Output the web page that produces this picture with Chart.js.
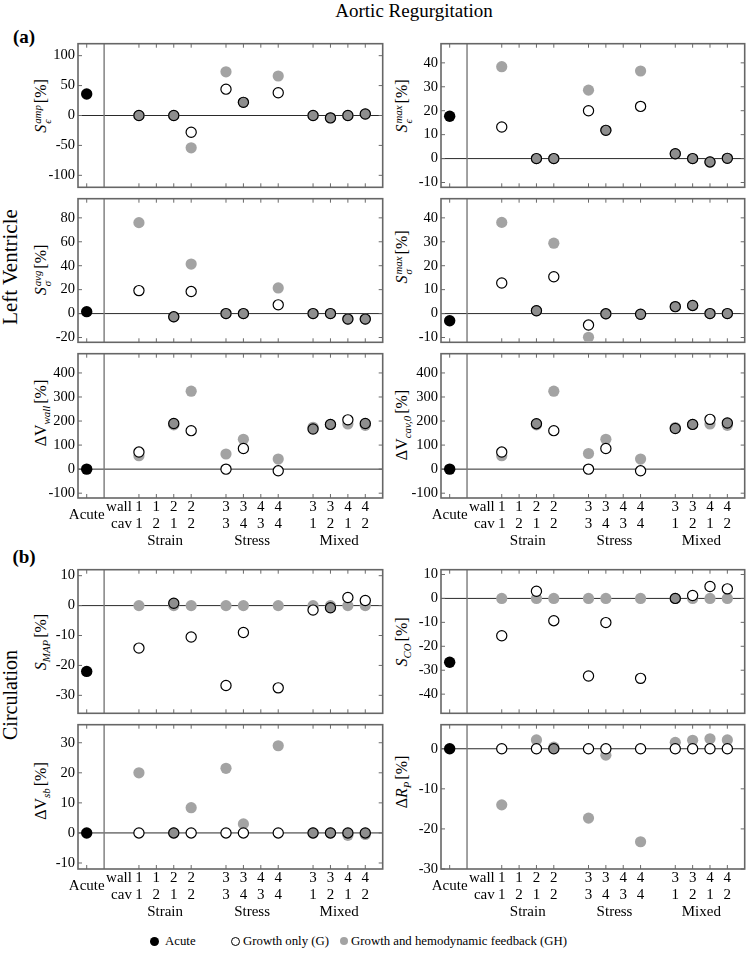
<!DOCTYPE html>
<html><head><meta charset="utf-8">
<script src="https://cdn.jsdelivr.net/npm/chart.js@4.4.1/dist/chart.umd.min.js"></script>
<style>
html,body{margin:0;padding:0;background:#fff;overflow:hidden;}
body{width:751px;height:956px;position:relative;font-family:"Liberation Serif","Times New Roman",serif;color:#000;}
canvas{position:absolute;}
.t{position:absolute;white-space:nowrap;line-height:1;transform:translate(-50%,-50%);}
.rot{transform:translate(-50%,-50%) rotate(-90deg);}
.yt{font-size:16px;}
.ss{display:inline-flex;flex-direction:column;vertical-align:0.45em;font-size:0.68em;line-height:0.95;margin-left:1px;margin-right:2px;}
.sb{font-size:0.68em;vertical-align:-0.35em;margin-right:2px;}
.dot{position:absolute;width:9px;height:9px;border-radius:50%;box-sizing:border-box;}
.lg{position:absolute;font-size:12.8px;line-height:1;white-space:nowrap;transform:translateY(-50%);}
</style></head><body>
<div class="t" style="left:414px;top:10px;font-size:19px;">Aortic Regurgitation</div>
<div class="t" style="left:24px;top:36px;font-size:19px;font-weight:bold;">(a)</div>
<div class="t" style="left:24px;top:556px;font-size:19px;font-weight:bold;">(b)</div>
<div class="t rot" style="left:10px;top:267px;font-size:21px;">Left Ventricle</div>
<div class="t rot" style="left:10px;top:695px;font-size:20px;">Circulation</div>
<div id="ytitles"></div>
<span class="dot" style="left:149.5px;top:936.5px;width:9.5px;height:9.5px;background:#000;"></span>
<span class="lg" style="left:165px;top:941px;">Acute</span>
<span class="dot" style="left:230.5px;top:936.5px;border:1.2px solid #000;background:#fff;"></span>
<span class="lg" style="left:243px;top:941px;">Growth only (G)</span>
<span class="dot" style="left:340px;top:937px;width:8px;height:8px;background:#a3a3a3;"></span>
<span class="lg" style="left:351px;top:941px;">Growth and hemodynamic feedback (GH)</span>
<script>
// ---------- categories ----------
const groups = ['Strain', 'Stress', 'Mixed'];
const wallLabels = ['1','1','2','2','3','3','4','4','3','3','4','4'];
const cavLabels  = ['1','2','1','2','3','4','3','4','1','2','1','2'];
const acuteLabel = 'Acute';

// ---------- Left ventricle ----------
const sEpsAmpAcute = 36;
const sEpsAmpG  = [0, null, 0, -28, 44, 22, null, 38, 0, -4, 0, 2.5];
const sEpsAmpGH = [0, null, 0, -54, 73, 22, null, 66, 0, -4, 0, 2.5];
const sEpsAmpTicks = [-100, -50, 0, 50, 100];

const sEpsMaxAcute = 17.7;
const sEpsMaxG  = [13.2, null, 0, 0, 20, 11.8, null, 21.8, 2, 0, -1.4, 0.1];
const sEpsMaxGH = [38.4, null, 0, 0, 28.6, 11.8, null, 36.6, 2, 0, -1.4, 0.1];
const sEpsMaxTicks = [-10, 0, 10, 20, 30, 40];

const sSigAvgAcute = 1.6;
const sSigAvgG  = [19.2, null, -2.7, 18.4, 0, 0, null, 7.3, 0, 0, -4.6, -4.6];
const sSigAvgGH = [76, null, -2.7, 41.4, 0, 0, null, 21.4, 0, 0, -4.6, -4.6];
const sSigAvgTicks = [-20, 0, 20, 40, 60, 80];

const sSigMaxAcute = -3;
const sSigMaxG  = [12.8, null, 1.2, 15.4, -4.8, -0.1, null, -0.3, 2.9, 3.4, 0, 0];
const sSigMaxGH = [38.1, null, 1.2, 29.4, -9.9, -0.1, null, -0.3, 2.9, 3.4, 0, 0];
const sSigMaxTicks = [-10, 0, 10, 20, 30, 40];

const dVwallAcute = 0;
const dVwallG  = [71, null, 190, 160, 0, 86, null, -7, 167, 186, 205, 190];
const dVwallGH = [56, null, 184, 324, 63, 124, null, 42, 174, 186, 188, 182];
const dVwallTicks = [-100, 0, 100, 200, 300, 400];

const dVcavAcute = 0;
const dVcavG  = [71, null, 189, 160, 0, 86, null, -7, 169, 186, 207, 192];
const dVcavGH = [56, null, 184, 324, 65, 124, null, 42, 173, 186, 188, 182];
const dVcavTicks = [-100, 0, 100, 200, 300, 400];

// ---------- Circulation ----------
const sMapAcute = -22;
const sMapG  = [-14.2, null, 0.8, -10.5, -26.7, -9, null, -27.5, -1.5, -0.7, 2.7, 1.7];
const sMapGH = [0, null, 0, 0, 0, 0, null, 0, 0, 0, 0, 0];
const sMapTicks = [-30, -20, -10, 0, 10];

const sCoAcute = -26.7;
const sCoG  = [-15.6, null, 3, -9.3, -32.4, -10.1, null, -33.4, 0, 1.2, 5, 4];
const sCoGH = [0, null, 0, 0, 0, 0, null, 0, 0, 0, 0, 0];
const sCoTicks = [-40, -30, -20, -10, 0, 10];

const dVsbAcute = 0;
const dVsbG  = [0, null, 0, 0, 0, 0, null, 0, 0, 0, 0, 0];
const dVsbGH = [20, null, 0, 8.4, 21.5, 3, null, 29, 0, 0, -0.8, -0.5];
const dVsbTicks = [-10, 0, 10, 20, 30];

const dRpAcute = 0;
const dRpG  = [0, null, 0, 0, 0, 0, null, 0, 0, 0, 0, 0];
const dRpGH = [-14, null, 2.2, 0.4, -17.3, -1.6, null, -23.2, 1.6, 2.1, 2.5, 2.2];
const dRpTicks = [-30, -20, -10, 0];

// ---------- layout ----------
const colL = [78, 441], colR = [387, 749];
const rowT = [42, 197, 352, 568, 723], rowB = [189, 344, 498, 715, 869];
const FONT = '"Liberation Serif", "Times New Roman", serif';

const catX = wallLabels.map((_, i) => 3 + Math.floor(i / 4) * 5 + (i % 4));
const tickVals = [0].concat(catX);

const panels = [
  {row:0,col:0,acute:sEpsAmpAcute,g:sEpsAmpG,gh:sEpsAmpGH,ticks:sEpsAmpTicks,min:-120,max:120,ty:106,
   title:'<i>S</i><span class="ss"><i>amp</i><i>&#1013;</i></span>[%]'},
  {row:0,col:1,acute:sEpsMaxAcute,g:sEpsMaxG,gh:sEpsMaxGH,ticks:sEpsMaxTicks,min:-12,max:48,ty:106,
   title:'<i>S</i><span class="ss"><i>max</i><i>&#1013;</i></span>[%]'},
  {row:1,col:0,acute:sSigAvgAcute,g:sSigAvgG,gh:sSigAvgGH,ticks:sSigAvgTicks,min:-24,max:96,ty:270,
   title:'<i>S</i><span class="ss"><i>avg</i><i>&sigma;</i></span>[%]'},
  {row:1,col:1,acute:sSigMaxAcute,g:sSigMaxG,gh:sSigMaxGH,ticks:sSigMaxTicks,min:-12,max:48,ty:257,
   title:'<i>S</i><span class="ss"><i>max</i><i>&sigma;</i></span>[%]'},
  {row:2,col:0,acute:dVwallAcute,g:dVwallG,gh:dVwallGH,ticks:dVwallTicks,min:-120,max:480,ty:413,
   title:'&Delta;V<span class="sb"><i>wall</i></span>[%]'},
  {row:2,col:1,acute:dVcavAcute,g:dVcavG,gh:dVcavGH,ticks:dVcavTicks,min:-120,max:480,ty:425,
   title:'&Delta;V<span class="sb"><i>cav,0</i></span>[%]'},
  {row:3,col:0,acute:sMapAcute,g:sMapG,gh:sMapGH,ticks:sMapTicks,min:-36,max:12,ty:642,
   title:'<i>S</i><span class="sb"><i>MAP</i></span>[%]'},
  {row:3,col:1,acute:sCoAcute,g:sCoG,gh:sCoGH,ticks:sCoTicks,min:-48,max:12,ty:642,
   title:'<i>S</i><span class="sb"><i>CO</i></span>[%]'},
  {row:4,col:0,acute:dVsbAcute,g:dVsbG,gh:dVsbGH,ticks:dVsbTicks,min:-12,max:36,ty:791,
   title:'&Delta;V<span class="sb"><i>sb</i></span>[%]'},
  {row:4,col:1,acute:dRpAcute,g:dRpG,gh:dRpGH,ticks:dRpTicks,min:-30,max:6,ty:782,
   title:'&Delta;<i>R</i><span class="sb"><i>P</i></span>[%]'}
];

const framePlugin = {
  id: 'frame',
  beforeDatasetsDraw(chart) {
    const {ctx, chartArea: a, scales: {x, y}} = chart;
    const ln = (x1, y1, x2, y2) => { ctx.beginPath(); ctx.moveTo(x1, y1); ctx.lineTo(x2, y2); ctx.stroke(); };
    ctx.save();
    const y0 = y.getPixelForValue(0);
    ctx.strokeStyle = '#2a2a2a'; ctx.lineWidth = 1;
    ln(a.left, y0, a.right, y0);
    const xsep = x.getPixelForValue(1);
    ctx.strokeStyle = '#7a7a7a'; ctx.lineWidth = 1.4;
    ln(xsep, a.top, xsep, a.bottom);
    ctx.strokeStyle = '#6a6a6a'; ctx.lineWidth = 1;
    x.ticks.forEach(t => { const px = x.getPixelForValue(t.value); ln(px, a.bottom, px, a.bottom - 4); ln(px, a.top, px, a.top + 4); });
    y.ticks.forEach(t => { const py = y.getPixelForValue(t.value); ln(a.left, py, a.left + 4, py); ln(a.right, py, a.right - 4, py); });
    ctx.strokeStyle = '#666'; ctx.lineWidth = 1.6;
    ctx.strokeRect(a.left, a.top, a.right - a.left, a.bottom - a.top);
    ctx.restore();
  },
  afterDraw(chart, args, opts) {
    if (!opts.showX) return;
    const {ctx, chartArea: a, scales: {x}} = chart;
    ctx.save();
    ctx.fillStyle = '#000';
    ctx.font = '15px ' + FONT;
    ctx.textBaseline = 'middle';
    const x3 = x.getPixelForValue(catX[0]);
    ctx.textAlign = 'right';
    ctx.fillText('wall', x3 - 7, a.bottom + 9);
    ctx.fillText('cav', x3 - 7, a.bottom + 26);
    ctx.textAlign = 'center';
    ctx.fillText(acuteLabel, x.getPixelForValue(0), a.bottom + 17.5);
    groups.forEach((g, gi) => {
      const x1 = x.getPixelForValue(catX[gi * 4]), x2 = x.getPixelForValue(catX[gi * 4 + 3]);
      ctx.fillText(g, (x1 + x2) / 2, a.bottom + 43);
    });
    ctx.restore();
  }
};

function build() {
  const ytDiv = document.getElementById('ytitles');
  panels.forEach(p => {
    const L = colL[p.col], R = colR[p.col], T = rowT[p.row], B = rowB[p.row];
    const showX = (p.row === 2 || p.row === 4);
    const xh = showX ? 50 : 0;
    const padL = 60, padT = 10, padB = 10, padR = 2;
    const W = R - L + padL + padR, H = B - T + padT + padB + xh;
    const cv = document.createElement('canvas');
    cv.width = W; cv.height = H;
    cv.style.left = (L - padL) + 'px'; cv.style.top = (T - padT) + 'px';
    cv.style.width = W + 'px'; cv.style.height = H + 'px';
    document.body.appendChild(cv);

    const t = document.createElement('div');
    t.className = 't rot yt';
    t.style.left = (p.col === 0 ? 42 : 403) + 'px';
    t.style.top = p.ty + 'px';
    t.innerHTML = p.title;
    ytDiv.appendChild(t);

    const ghData = [], gData = [];
    p.gh.forEach((v, i) => { if (v != null) ghData.push({x: catX[i], y: v, i}); });
    p.g.forEach((v, i) => { if (v != null) gData.push({x: catX[i], y: v, i}); });

    new Chart(cv, {
      type: 'scatter',
      data: {datasets: [
        {label: 'Growth and hemodynamic feedback (GH)', data: ghData, backgroundColor: '#a3a3a3', borderWidth: 0, pointRadius: 5.6, order: 3},
        {label: 'Growth only (G)', data: gData, borderColor: '#000', borderWidth: 1.2, pointRadius: 5.1, order: 2,
         backgroundColor: (ctx) => {
           const r = ctx.raw; const ys = ctx.chart.scales.y;
           if (!r || !ys) return '#fff';
           const gh = p.gh[r.i];
           if (gh == null) return '#fff';
           return Math.abs(ys.getPixelForValue(gh) - ys.getPixelForValue(r.y)) < 2.6 ? '#8e8e8e' : '#fff';
         }},
        {label: 'Acute', data: [{x: 0, y: p.acute}], backgroundColor: '#000', borderWidth: 0, pointRadius: 5.7, order: 1}
      ]},
      options: {
        responsive: false, animation: false, devicePixelRatio: 1,
        layout: {padding: {left: 0, right: padR, top: padT, bottom: padB}},
        plugins: {legend: {display: false}, tooltip: {enabled: false}, frame: {showX}},
        scales: {
          x: {type: 'linear', min: -0.5, max: 17,
            grid: {display: false, drawTicks: false}, border: {display: false},
            afterBuildTicks: s => { s.ticks = tickVals.map(v => ({value: v})); },
            afterFit: s => { s.height = xh; },
            ticks: {display: showX, padding: 1, maxRotation: 0, minRotation: 0, autoSkip: false, color: '#000',
              font: {family: FONT, size: 15, lineHeight: 1.13},
              callback: (v) => { const i = catX.indexOf(v); return i < 0 ? '' : [wallLabels[i], cavLabels[i]]; }}
          },
          y: {type: 'linear', min: p.min, max: p.max,
            grid: {display: false, drawTicks: false}, border: {display: false},
            afterBuildTicks: s => { s.ticks = p.ticks.map(v => ({value: v})); },
            afterFit: s => { s.width = padL; },
            ticks: {padding: 3, color: '#000', font: {family: FONT, size: 14.5}, callback: v => String(v)}
          }
        }
      },
      plugins: [framePlugin]
    });
  });
}

let built = false;
function go() { if (!built) { built = true; build(); } }
if (document.fonts && document.fonts.load) {
  Promise.all([
    document.fonts.load('15px "Liberation Serif"'),
    document.fonts.load('italic 15px "Liberation Serif"')
  ]).then(go, go);
  setTimeout(go, 1500);
} else {
  go();
}
</script>
</body></html>
